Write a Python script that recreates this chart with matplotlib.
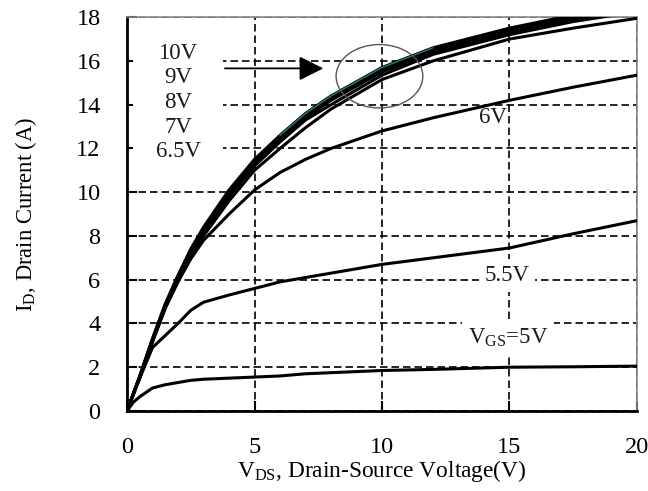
import matplotlib
matplotlib.use("Agg")
import matplotlib.pyplot as plt
from matplotlib.patches import Ellipse

plt.rcParams['font.family'] = ['Liberation Serif', 'DejaVu Serif']
plt.rcParams['mathtext.fontset'] = 'custom'
plt.rcParams['mathtext.rm'] = 'Liberation Serif'
plt.rcParams['mathtext.it'] = 'Liberation Serif:italic'

# drain-source voltage (V)
vds = [0, 0.25, 0.5, 1, 1.5, 2, 2.5, 3, 4, 5, 6, 7, 8, 10, 12, 15, 17.5, 20]

# drain current (A) for each gate voltage
id_10v = [0, 0.8, 1.6, 3.3, 4.9, 6.2, 7.4, 8.4, 10.1, 11.5, 12.6, 13.6, 14.4, 15.7, 16.6, 17.5, 18.1, 18.6]
id_9v = [0, 0.8, 1.6, 3.3, 4.85, 6.15, 7.35, 8.35, 10.0, 11.4, 12.5, 13.5, 14.3, 15.6, 16.5, 17.4, 18.0, 18.5]
id_8v = [0, 0.78, 1.55, 3.25, 4.8, 6.1, 7.3, 8.25, 9.9, 11.3, 12.4, 13.4, 14.2, 15.5, 16.4, 17.3, 17.9, 18.4]
id_7v = [0, 0.78, 1.55, 3.2, 4.75, 6.05, 7.2, 8.15, 9.8, 11.2, 12.3, 13.3, 14.0, 15.35, 16.3, 17.2, 17.8, 18.25]
id_65v = [0, 0.76, 1.5, 3.15, 4.7, 5.95, 7.1, 8.0, 9.6, 11.0, 12.0, 12.95, 13.8, 15.15, 16.0, 17.0, 17.5, 17.95]
id_6v = [0, 0.78, 1.55, 3.2, 4.7, 5.9, 6.95, 7.8, 9.0, 10.1, 10.9, 11.5, 12.0, 12.8, 13.4, 14.2, 14.8, 15.35]
id_55v = [0, 0.76, 1.5, 2.9, 3.45, 4.0, 4.6, 4.97, 5.3, 5.6, 5.9, 6.1, 6.3, 6.7, 7.0, 7.45, 8.1, 8.7]
id_5v = [0, 0.4, 0.65, 1.05, 1.2, 1.3, 1.4, 1.45, 1.5, 1.55, 1.6, 1.7, 1.75, 1.85, 1.9, 2.0, 2.02, 2.05]

curves = [id_5v, id_55v, id_6v, id_65v, id_7v, id_8v, id_9v, id_10v]

fig = plt.figure(figsize=(6.48, 4.91), dpi=100)
ax = fig.add_axes([0.196, 0.163, 0.787, 0.802])

for ids in curves:
    ax.plot(vds, ids, color='black', lw=2.2, zorder=3, clip_on=True)

# coloured streak along the top curve
seg = [(v, i) for v, i in zip(vds, id_10v) if 6 <= v <= 12]
ax.plot([s[0] for s in seg], [s[1] for s in seg], color='#2a7a7a', lw=1.0, zorder=4)

ax.set_xlim(0, 20)
ax.set_ylim(0, 18)
ax.set_xticks([0, 5, 10, 15, 20])
ax.set_yticks(range(0, 19, 2))

ax.set_axisbelow(True)
ax.grid(True, color='black', linestyle=(0, (4.5, 2.4)), linewidth=1.2)

ax.tick_params(direction='in', length=7, width=1.5, labelsize=17.5, pad=19,
               colors='black')
for side in ['left', 'bottom']:
    ax.spines[side].set_linewidth(2)
for side in ['top', 'right']:
    ax.spines[side].set_linewidth(1.2)
    ax.spines[side].set_color('#888888')

ax.set_xlabel(r'V$_{\mathrm{DS}}$, Drain-Source Voltage(V)', fontsize=16.8, labelpad=0)
ax.set_ylabel(r'I$_{\mathrm{D}}$, Drain Current (A)', fontsize=16.3, labelpad=27)

txt_kw = dict(fontsize=16.5, ha='center', va='center', color='#1a1a1a', zorder=2.5)
ax.text(2.0, 14.1, '10V\n9V\n8V\n7V\n6.5V', linespacing=1.22,
        bbox=dict(boxstyle='square,pad=1.0', fc='white', ec='none'), **txt_kw)
ax.text(14.37, 13.42, '6V', **txt_kw)
ax.text(14.9, 6.2, '5.5V', bbox=dict(boxstyle='square,pad=0.25', fc='white', ec='none'), **txt_kw)
ax.text(14.94, 3.33, r'V$_{\mathrm{GS}}$=5V',
        bbox=dict(boxstyle='square,pad=0.25', fc='white', ec='none'), **txt_kw)

ax.annotate('', xy=(7.7, 15.66), xytext=(3.84, 15.66),
            arrowprops=dict(arrowstyle='-|>,head_length=1.0,head_width=0.5',
                            mutation_scale=15, lw=1.3, color='black',
                            shrinkA=0, shrinkB=0), zorder=4)
ax.add_patch(Ellipse((9.9, 15.3), 3.4, 2.9, fill=False, ec='#555555', lw=1.0, zorder=4))

fig.savefig('out.png', dpi=100, facecolor='white')
